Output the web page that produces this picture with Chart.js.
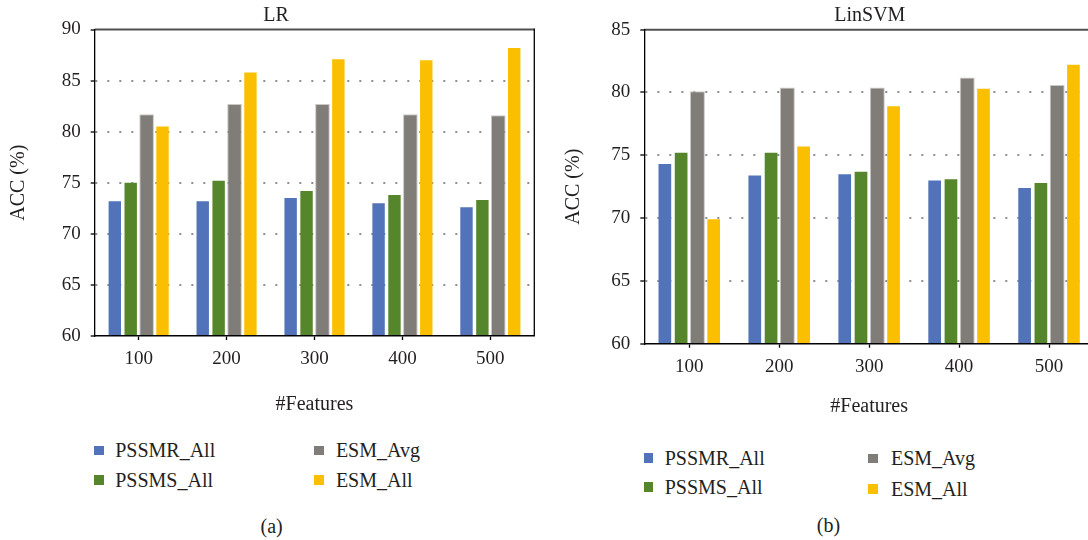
<!DOCTYPE html>
<html><head><meta charset="utf-8">
<script src="https://cdn.jsdelivr.net/npm/chart.js@4.4.1/dist/chart.umd.min.js"></script>
<style>
html,body{margin:0;padding:0;background:#fff;}
body{width:1088px;height:540px;position:relative;overflow:hidden;font-family:'Liberation Serif','Times New Roman',serif;color:#231f20;}
canvas{position:absolute;top:0;}
.t{position:absolute;white-space:nowrap;}
.sq{position:absolute;}
</style></head><body>
<canvas id="c1" width="552" height="430" style="left:0px"></canvas>
<canvas id="c2" width="600" height="430" style="left:544px"></canvas>
<script>
// ---------- data ----------
const categories = ['100', '200', '300', '400', '500'];
const seriesNames = ['PSSMR_All', 'PSSMS_All', 'ESM_Avg', 'ESM_All'];
const seriesColors = ['#5273b9', '#56862b', '#807c78', '#fac000'];

const lrPSSMR  = [73.2, 73.2, 73.5, 73.0, 72.6];
const lrPSSMS  = [75.0, 75.2, 74.2, 73.8, 73.3];
const lrESMAvg = [81.7, 82.7, 82.7, 81.7, 81.6];
const lrESMAll = [80.5, 85.8, 87.1, 87.0, 88.2];

const svmPSSMR  = [74.3, 73.4, 73.5, 73.0, 72.4];
const svmPSSMS  = [75.2, 75.2, 73.7, 73.1, 72.8];
const svmESMAvg = [80.1, 80.4, 80.4, 81.2, 80.6];
const svmESMAll = [69.9, 75.7, 78.9, 80.3, 82.2];

const lrTicks  = [60, 65, 70, 75, 80, 85, 90];
const svmTicks = [60, 65, 70, 75, 80, 85];

const chartTitles = ['LR', 'LinSVM'];
const xTitle = '#Features';
const yTitle = 'ACC (%)';
const captions = ['(a)', '(b)'];

// ---------- helpers ----------
const FONT = "'Liberation Serif', 'Times New Roman', serif";
const TXT = '#231f20';

const framePlugin = {
  id: 'frame',
  afterDatasetsDraw(chart, args, opts) {
    const {ctx, chartArea: a} = chart;
    ctx.save();
    ctx.strokeStyle = '#505050';
    ctx.lineWidth = 2;
    ctx.beginPath();
    ctx.moveTo(a.left, a.top);
    ctx.lineTo(opts.toEdge ? chart.width : a.right, a.top);
    ctx.stroke();
    if (opts.right) {
      ctx.strokeStyle = '#000';
      ctx.lineWidth = 1.3;
      ctx.beginPath();
      ctx.moveTo(a.right, a.top - 1);
      ctx.lineTo(a.right, a.bottom);
      ctx.stroke();
    }
    ctx.restore();
  }
};

function makeDatasets(vals, catPct) {
  return vals.map((v, i) => ({
    label: seriesNames[i],
    data: v,
    backgroundColor: seriesColors[i],
    borderColor: i === 2 ? '#cac8c6' : seriesColors[i],
    borderWidth: i === 2 ? 1 : 0,
    borderSkipped: 'bottom',
    categoryPercentage: catPct,
    barPercentage: i === 2 ? 0.92 : 0.78
  }));
}

function makeChart(id, vals, ticks, cfg) {
  const tickSet = ticks;
  return new Chart(document.getElementById(id), {
    type: 'bar',
    data: { labels: categories, datasets: makeDatasets(vals, cfg.catPct) },
    plugins: [framePlugin],
    options: {
      responsive: false,
      animation: false,
      events: [],
      layout: { padding: { left: 0, top: cfg.top, right: cfg.right, bottom: 0 } },
      plugins: {
        legend: { display: false },
        title: { display: false },
        tooltip: { enabled: false },
        frame: { toEdge: cfg.toEdge, right: cfg.rightBorder }
      },
      scales: {
        x: {
          type: 'category',
          offset: true,
          afterFit(s) { s.height = cfg.xH; },
          grid: { display: true, offset: false, drawOnChartArea: false, drawTicks: true, tickLength: 4, tickColor: '#000', tickWidth: 1.3 },
          border: { display: true, color: '#000', width: 1.5, z: 1 },
          ticks: { color: TXT, font: { family: FONT, size: 19 }, padding: 8, maxRotation: 0 },
          title: { display: true, text: xTitle, color: TXT, font: { family: FONT, size: 20 }, padding: { top: 0, bottom: cfg.xTitlePad } }
        },
        y: {
          min: tickSet[0],
          max: tickSet[tickSet.length - 1],
          afterFit(s) { s.width = cfg.yW; },
          afterBuildTicks(s) { s.ticks = tickSet.map(v => ({ value: v })); },
          grid: {
            display: true,
            drawTicks: true,
            tickLength: 4,
            tickColor: '#000',
            tickWidth: 1.3,
            tickBorderDash: [],
            lineWidth: 2,
            color: (c) => (c.tick && (c.tick.value === tickSet[0] || c.tick.value === tickSet[tickSet.length - 1])) ? 'rgba(0,0,0,0)' : '#8e8e8e'
          },
          border: { display: true, color: '#000', width: 1.3, dash: [2, 10], dashOffset: 0, z: 1 },
          ticks: { color: TXT, font: { family: FONT, size: 19 }, padding: 10 },
          title: { display: true, text: yTitle, color: TXT, font: { family: FONT, size: 20 }, padding: { top: cfg.yTitlePad, bottom: 0 } }
        }
      }
    }
  });
}

makeChart('c1', [lrPSSMR, lrPSSMS, lrESMAvg, lrESMAll], lrTicks,
  { top: 29.5, right: 17.7, yW: 94.7, xH: 94, catPct: 0.7235, xTitlePad: 13, yTitlePad: 7, toEdge: false, rightBorder: true });
makeChart('c2', [svmPSSMR, svmPSSMS, svmESMAvg, svmESMAll], svmTicks,
  { top: 29.7, right: 50, yW: 100.3, xH: 86.3, catPct: 0.724, xTitlePad: 11, yTitlePad: 18, toEdge: true, rightBorder: false });

// ---------- html text: titles, legends, captions ----------
function addText(str, x, cy, size, center) {
  const d = document.createElement('div');
  d.className = 't';
  d.textContent = str;
  d.style.fontSize = size + 'px';
  d.style.lineHeight = size + 'px';
  d.style.top = (cy - size / 2) + 'px';
  d.style.left = x + 'px';
  if (center) d.style.transform = 'translateX(-50%)';
  document.body.appendChild(d);
}
function addSquare(x, cy, color) {
  const d = document.createElement('div');
  d.className = 'sq';
  d.style.left = x + 'px';
  d.style.top = (cy - 4.5) + 'px';
  d.style.width = '9.5px';
  d.style.height = '9.5px';
  d.style.background = color;
  document.body.appendChild(d);
}

addText(chartTitles[0], 276, 14, 20, true);
addText(chartTitles[1], 869.8, 14, 20, true);
addText(captions[0], 271.7, 526, 20, true);
addText(captions[1], 828.5, 525, 20, true);

// legend positions: [squareX, textX, rowCenterY] for each series (column-major 2x2)
const legendLeft  = [[94, 115.2, 450.3], [94, 115.2, 479.5], [314, 335.9, 450.3], [314, 335.9, 479.5]];
const legendRight = [[643.9, 664.7, 457.7], [643.9, 664.7, 486.5], [868.4, 891, 458], [868.4, 891, 488.7]];
[legendLeft, legendRight].forEach(pos => {
  seriesNames.forEach((name, i) => {
    addSquare(pos[i][0], pos[i][2], seriesColors[i]);
    addText(name, pos[i][1], pos[i][2], 20, false);
  });
});
</script>
</body></html>
